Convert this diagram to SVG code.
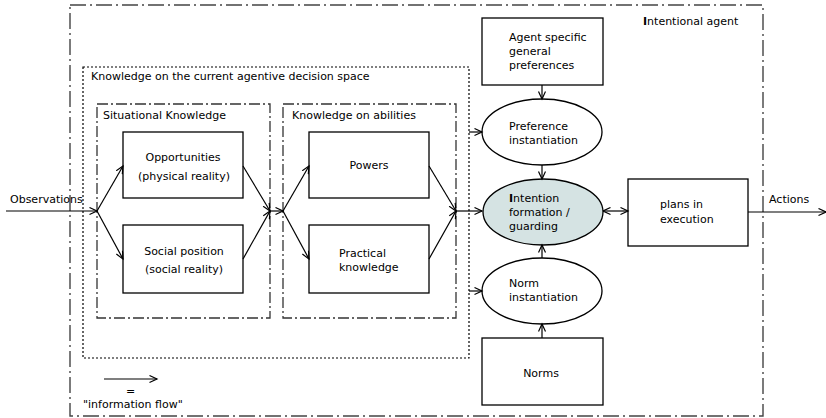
<svg xmlns="http://www.w3.org/2000/svg" width="826" height="418" viewBox="0 0 826 418">
<defs>
<marker id="ah" markerWidth="10" markerHeight="10" refX="8" refY="4" orient="auto" markerUnits="userSpaceOnUse">
<path d="M0.5,0.5 L8,4 L0.5,7.5" fill="none" stroke="#000" stroke-width="1.2"/>
</marker>
<marker id="ahs" markerWidth="10" markerHeight="10" refX="0.5" refY="4" orient="auto" markerUnits="userSpaceOnUse">
<path d="M8,0.5 L0.5,4 L8,7.5" fill="none" stroke="#000" stroke-width="1.2"/>
</marker>
</defs>
<style>
text{font-family:"DejaVu Sans",sans-serif;font-size:11px;fill:#000}
.box{fill:#fff;stroke:#000;stroke-width:1.3}
.ell{fill:#fff;stroke:#000;stroke-width:1.3}
.outer{fill:none;stroke:#444;stroke-width:1.4;stroke-dasharray:16,4,2,4}
.dot{fill:none;stroke:#000;stroke-width:1.2;stroke-dasharray:2,2}
.dd{fill:none;stroke:#333;stroke-width:1.3;stroke-dasharray:11,3,2,3}
.c{fill:none;stroke:#000;stroke-width:1.2;marker-end:url(#ah)}
.mid{text-anchor:middle}
</style>
<rect id="intentional-agent" class="outer" x="70" y="5" width="693" height="411"/>
<text x="643" y="25"><tspan font-weight="bold">I</tspan>ntentional agent</text>
<g id="knowledge-space">
<rect class="dot" x="83" y="67" width="386" height="291"/>
<text x="91" y="80">Knowledge on the current agentive decision space</text>
</g>
<g id="situational-knowledge">
<rect class="dd" x="97" y="104" width="173" height="214"/>
<text x="103" y="119">Situational Knowledge</text>
</g>
<g id="knowledge-abilities">
<rect class="dd" x="283" y="104" width="173" height="214"/>
<text x="292" y="119">Knowledge on abilities</text>
</g>
<g id="opportunities">
<rect class="box" x="123" y="132" width="120" height="66"/>
<text class="mid" x="183" y="161">Opportunities</text>
<text class="mid" x="184" y="180">(physical reality)</text>
</g>
<g id="social-position">
<rect class="box" x="123" y="225" width="120" height="68"/>
<text class="mid" x="184" y="255">Social position</text>
<text class="mid" x="184" y="273">(social reality)</text>
</g>
<g id="powers">
<rect class="box" x="309" y="132" width="120" height="66"/>
<text class="mid" x="369" y="169">Powers</text>
</g>
<g id="practical-knowledge">
<rect class="box" x="309" y="225" width="120" height="68"/>
<text x="339" y="257">Practical</text>
<text x="339" y="271">knowledge</text>
</g>
<g id="agent-preferences">
<rect class="box" x="482" y="18" width="121" height="67"/>
<text x="509" y="41">Agent specific</text>
<text x="509" y="55">general</text>
<text x="509" y="69">preferences</text>
</g>
<g id="preference-instantiation">
<ellipse class="ell" cx="542" cy="132" rx="60" ry="33"/>
<text x="509" y="130">Preference</text>
<text x="509" y="144">instantiation</text>
</g>
<g id="intention-formation">
<ellipse class="ell" cx="543" cy="212" rx="60" ry="33" style="fill:#d5e3e3"/>
<text x="509" y="202"><tspan font-weight="bold">I</tspan>ntention</text>
<text x="509" y="216">formation /</text>
<text x="509" y="230">guarding</text>
</g>
<g id="norm-instantiation">
<ellipse class="ell" cx="542" cy="291" rx="60" ry="33"/>
<text x="509" y="287">Norm</text>
<text x="509" y="301">instantiation</text>
</g>
<g id="norms">
<rect class="box" x="482" y="338" width="121" height="67"/>
<text class="mid" x="541" y="377">Norms</text>
</g>
<g id="plans-in-execution">
<rect class="box" x="628" y="179" width="120" height="67"/>
<text x="660" y="208">plans in</text>
<text x="660" y="223">execution</text>
</g>
<g id="connectors">
<line class="c" x1="6" y1="211" x2="97" y2="211"/>
<line class="c" x1="97" y1="211" x2="123" y2="166"/>
<line class="c" x1="97" y1="211" x2="123" y2="259"/>
<line class="c" x1="243" y1="166" x2="270" y2="211"/>
<line class="c" x1="243" y1="259" x2="270" y2="211"/>
<line class="c" x1="270" y1="211" x2="283" y2="211"/>
<line class="c" x1="283" y1="211" x2="309" y2="166"/>
<line class="c" x1="283" y1="211" x2="309" y2="259"/>
<line class="c" x1="429" y1="166" x2="456" y2="211"/>
<line class="c" x1="429" y1="259" x2="456" y2="211"/>
<line class="c" x1="456" y1="211" x2="482" y2="211"/>
<line class="c" x1="469" y1="132" x2="482" y2="132"/>
<line class="c" x1="469" y1="291" x2="482" y2="291"/>
<line class="c" x1="542" y1="85" x2="542" y2="99"/>
<line class="c" x1="542" y1="165" x2="542" y2="179"/>
<line class="c" x1="542" y1="258" x2="542" y2="245"/>
<line class="c" x1="542" y1="338" x2="542" y2="324"/>
<line class="c" x1="603" y1="211" x2="628" y2="211" style="marker-start:url(#ahs)"/>
<line class="c" x1="748" y1="212" x2="826" y2="212"/>
</g>
<text x="10" y="203">Observations</text>
<text x="769" y="203">Actions</text>
<g id="legend">
<line class="c" x1="104" y1="379" x2="157" y2="379"/>
<text x="126" y="395">=</text>
<text x="83" y="408">"information flow"</text>
</g>
</svg>
